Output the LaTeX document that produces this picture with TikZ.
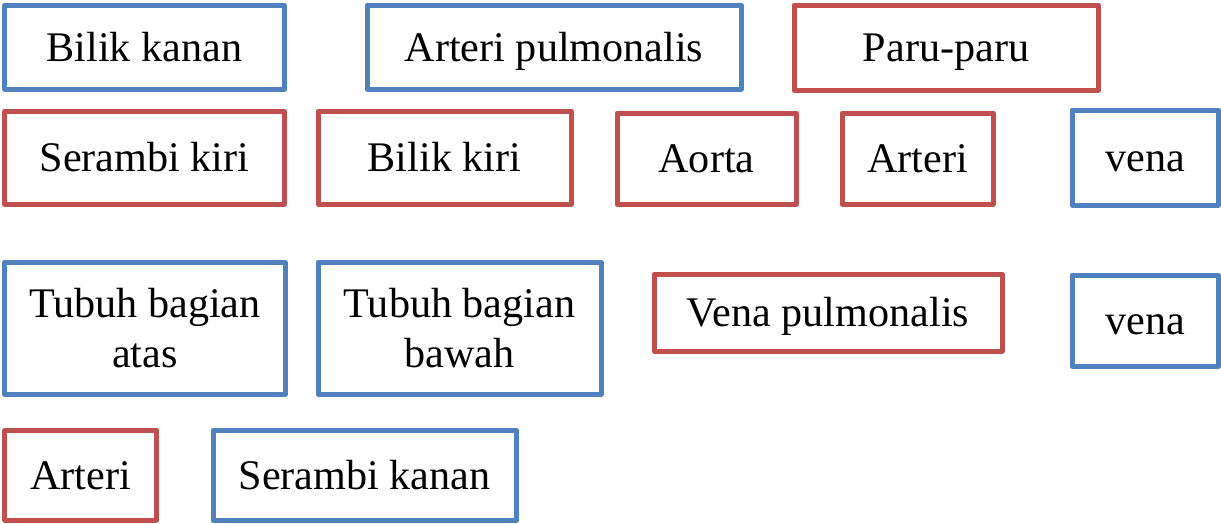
\documentclass[tikz,border=0pt]{standalone}
\usepackage{fontspec}
\setmainfont{Liberation Serif}
\usepackage{tikz}
\definecolor{biru}{RGB}{79,129,189}
\definecolor{merah}{RGB}{192,80,77}
\tikzset{
	kotak/.style={draw, line width=0.125cm, line join=round, inner sep=0pt, align=center, font=\fontsize{30}{35}\selectfont},
	baris/.style={text height=0.8cm, text depth=0.1cm},
	kotakbiru/.style={kotak, draw=biru},
	kotakmerah/.style={kotak, draw=merah}
}

\begin{document}
\begin{tikzpicture}
			%%%%% START %%%%%
			
			\useasboundingbox (0, 0) rectangle (30.525, -13.1);
			
			\node[kotakbiru, baris, minimum width=6.975cm, minimum height=2.1cm] (bilikKanan) at (3.6125, -1.175) {Bilik kanan};
			\node[kotakbiru, baris, minimum width=9.35cm, minimum height=2.1cm] (arteriPulmo) at (13.85, -1.175) {Arteri pulmonalis};
			\node[kotakmerah, baris, minimum width=7.6cm, minimum height=2.125cm] (paru) at (23.65, -1.1875) {Paru-paru};
			
			\node[kotakmerah, baris, minimum width=6.975cm, minimum height=2.325cm] (serambiKiri) at (3.6125, -3.9375) {Serambi kiri};
			\node[kotakmerah, baris, minimum width=6.325cm, minimum height=2.325cm] (bilikKiri) at (11.1125, -3.9375) {Bilik kiri};
			\node[kotakmerah, baris, minimum width=4.475cm, minimum height=2.275cm] (aorta) at (17.6625, -3.9625) {Aorta};
			\node[kotakmerah, baris, minimum width=3.775cm, minimum height=2.275cm] (arteriAtas) at (22.9375, -3.9625) {Arteri};
			\node[kotakbiru, baris, minimum width=3.65cm, minimum height=2.375cm] (venaAtas) at (28.625, -3.9375) {vena};
			
			\node[kotakbiru, minimum width=7.0cm, minimum height=3.3cm] (tubuhAtas) at (3.625, -8.2) {Tubuh bagian\\atas};
			\node[kotakbiru, minimum width=7.075cm, minimum height=3.3cm] (tubuhBawah) at (11.4875, -8.2) {Tubuh bagian\\bawah};
			\node[kotakmerah, baris, minimum width=8.7cm, minimum height=1.925cm] (venaPulmo) at (20.7, -7.8125) {Vena pulmonalis};
			\node[kotakbiru, baris, minimum width=3.65cm, minimum height=2.275cm] (venaBawah) at (28.625, -8.0125) {vena};
			
			\node[kotakmerah, baris, minimum width=3.775cm, minimum height=2.25cm] (arteriBawah) at (2.0125, -11.875) {Arteri};
			\node[kotakbiru, baris, minimum width=7.575cm, minimum height=2.25cm] (serambiKanan) at (9.1125, -11.875) {Serambi kanan};
			
			%%%%% END %%%%%
\end{tikzpicture}
\end{document}
